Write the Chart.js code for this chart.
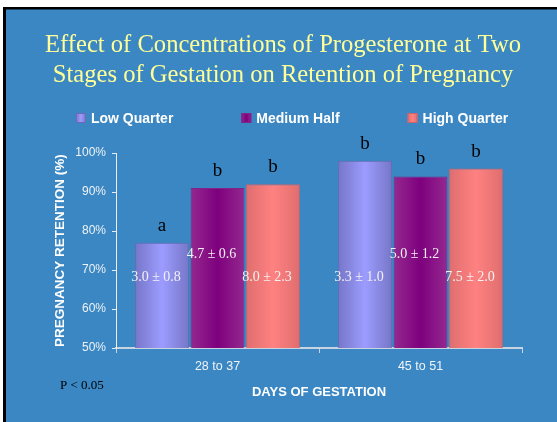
<!DOCTYPE html>
<html>
<head>
<meta charset="utf-8">
<script src="https://cdn.jsdelivr.net/npm/chart.js@4/dist/chart.umd.min.js"></script>
<style>
  html, body { margin: 0; padding: 0; background: #ffffff; }
  #wrap { position: absolute; left: 0; top: 0; width: 557px; height: 422px; }
</style>
</head>
<body>
<div id="wrap"><canvas id="c" width="557" height="422"></canvas></div>
<script>
// ---- data ----
const categories = ["28 to 37", "45 to 51"];
const seriesNames = ["Low Quarter", "Medium Half", "High Quarter"];
const lowQuarter = [77, 98];
const mediumHalf = [91, 94];
const highQuarter = [92, 96];
const lowLetters = ["a", "b"];
const mediumLetters = ["b", "b"];
const highLetters = ["b", "b"];
const lowInside = ["3.0 \u00b1 0.8", "3.3 \u00b1 1.0"];
const mediumInside = ["4.7 \u00b1 0.6", "5.0 \u00b1 1.2"];
const highInside = ["8.0 \u00b1 2.3", "7.5 \u00b1 2.0"];
const insideLevel = [68, 74, 68]; // value level (%) where inside labels sit
const yTicks = [50, 60, 70, 80, 90, 100];
const titleLines = ["Effect of Concentrations of Progesterone at Two", "Stages of Gestation on Retention of Pregnancy"];

// ---- styles ----
const BLUE = "#3a87c3";
const edgeCols = ["#7676c8", "#94298f", "#df6e6e"];
const midCols = ["#9c9cff", "#7e007e", "#ff8181"];
const borderCols = ["#6a6ab4", "#7d2486", "#c8656e"];
const serif = "'Liberation Serif', 'Times New Roman', serif";
const sans = "'Liberation Sans', Arial, sans-serif";

function barGradient(ctx, x0, x1, i) {
  const g = ctx.createLinearGradient(x0, 0, x1, 0);
  g.addColorStop(0, edgeCols[i]);
  g.addColorStop(0.5, midCols[i]);
  g.addColorStop(1, edgeCols[i]);
  return g;
}

const bgPlugin = {
  id: "bg",
  beforeDraw(chart) {
    const ctx = chart.ctx;
    ctx.save();
    ctx.fillStyle = "#ffffff";
    ctx.fillRect(0, 0, chart.width, chart.height);
    ctx.fillStyle = "#000000";
    ctx.fillRect(3, 7, chart.width - 3, chart.height - 7);
    ctx.fillStyle = BLUE;
    ctx.fillRect(6, 9.5, chart.width - 6, chart.height - 9.5);
    ctx.restore();
  }
};

const gradPlugin = {
  id: "grad",
  beforeDatasetsDraw(chart) {
    const ctx = chart.ctx;
    chart.data.datasets.forEach((ds, i) => {
      const meta = chart.getDatasetMeta(i);
      meta.data.forEach(bar => {
        const p = bar.getProps(["x", "width"], true);
        const own = Object.create(bar.options);
        own.backgroundColor = barGradient(ctx, p.x - p.width / 2, p.x + p.width / 2, i);
        bar.options = own;
      });
    });
  }
};

const labelsPlugin = {
  id: "labels",
  afterDatasetsDraw(chart) {
    const ctx = chart.ctx;
    const yScale = chart.scales.y;
    const letters = [lowLetters, mediumLetters, highLetters];
    const inside = [lowInside, mediumInside, highInside];
    ctx.save();
    ctx.textAlign = "center";
    ctx.textBaseline = "middle";
    chart.data.datasets.forEach((ds, i) => {
      const meta = chart.getDatasetMeta(i);
      meta.data.forEach((bar, j) => {
        const p = bar.getProps(["x", "y"], true);
        ctx.fillStyle = "#000000";
        ctx.font = "19px " + serif;
        ctx.fillText(letters[i][j], p.x, p.y - 17);
        ctx.fillStyle = "#f2f2f2";
        ctx.font = "14px " + serif;
        ctx.fillText(inside[i][j], p.x - 6, yScale.getPixelForValue(insideLevel[i]));
      });
    });
    // P value note
    ctx.textAlign = "left";
    ctx.fillStyle = "#000000";
    ctx.font = "13px " + serif;
    ctx.fillText("P < 0.05", 60, 386);
    ctx.restore();
  }
};

const legendPlugin = {
  id: "customLegend",
  afterDraw(chart) {
    const ctx = chart.ctx;
    ctx.save();
    ctx.font = "bold 14px " + sans;
    const gap = 68, box = 10, textGap = 5;
    const widths = seriesNames.map(n => box + textGap + ctx.measureText(n).width);
    const total = widths.reduce((a, b) => a + b, 0) + gap * (seriesNames.length - 1);
    let x = 292 - total / 2;
    const y = 118;
    seriesNames.forEach((n, i) => {
      ctx.fillStyle = barGradient(ctx, x, x + box, i);
      ctx.fillRect(x, y - 5, box, box);
      ctx.strokeStyle = borderCols[i];
      ctx.lineWidth = 1;
      ctx.strokeRect(x + 0.5, y - 4.5, box - 1, box - 1);
      ctx.fillStyle = "#ffffff";
      ctx.textAlign = "left";
      ctx.textBaseline = "middle";
      ctx.fillText(n, x + box + textGap, y + 1);
      x += widths[i] + gap;
    });
    ctx.restore();
  }
};

new Chart(document.getElementById("c"), {
  type: "bar",
  data: {
    labels: categories,
    datasets: [
      { label: seriesNames[0], data: lowQuarter, backgroundColor: midCols[0], borderColor: borderCols[0], borderWidth: 1 },
      { label: seriesNames[1], data: mediumHalf, backgroundColor: midCols[1], borderColor: borderCols[1], borderWidth: 1 },
      { label: seriesNames[2], data: highQuarter, backgroundColor: midCols[2], borderColor: borderCols[2], borderWidth: 1 }
    ]
  },
  options: {
    responsive: false,
    animation: false,
    devicePixelRatio: 1,
    layout: { padding: { left: 9, right: 0, top: 9, bottom: 0 } },
    datasets: { bar: { categoryPercentage: 0.82, barPercentage: 0.97 } },
    plugins: {
      legend: { display: false },
      tooltip: { enabled: false },
      title: {
        display: true,
        text: titleLines,
        color: "#ffff99",
        font: { family: serif, size: 24.6, weight: "normal", lineHeight: 1.22 },
        padding: { top: 22, bottom: 62 }
      }
    },
    scales: {
      x: {
        grid: { display: true, drawOnChartArea: false, drawTicks: true, tickLength: 5, color: "#c8d4e0", offset: true },
        border: { display: true, color: "#c8d4e0", width: 2 },
        ticks: { color: "#f0f4f8", font: { family: sans, size: 12.5 }, padding: 6 },
        title: { display: true, text: "DAYS OF GESTATION", color: "#ffffff", font: { family: sans, size: 13, weight: "bold" }, padding: { top: 0, bottom: 22 } },
        afterFit(s) { s.height = 74; }
      },
      y: {
        min: 50, max: 100,
        afterBuildTicks(s) { s.ticks = yTicks.map(v => ({ value: v })); },
        grid: { display: true, drawOnChartArea: false, drawTicks: true, tickLength: 4, color: "#e8eef4" },
        border: { display: true, color: "#e8eef4", width: 1 },
        ticks: { color: "#eef2f6", font: { family: sans, size: 12 }, padding: 6, callback: v => v + "%" },
        title: { display: true, text: "PREGNANCY RETENTION (%)", color: "#ffffff", font: { family: sans, size: 13.5, weight: "bold" }, padding: { top: 43, bottom: 0 } },
        afterFit(s) { s.width = 107; }
      },
      yR: {
        position: "right",
        display: true,
        grid: { display: false },
        border: { display: false },
        ticks: { display: false },
        afterFit(s) { s.width = 35; }
      }
    }
  },
  plugins: [bgPlugin, gradPlugin, labelsPlugin, legendPlugin]
});
</script>
</body>
</html>
